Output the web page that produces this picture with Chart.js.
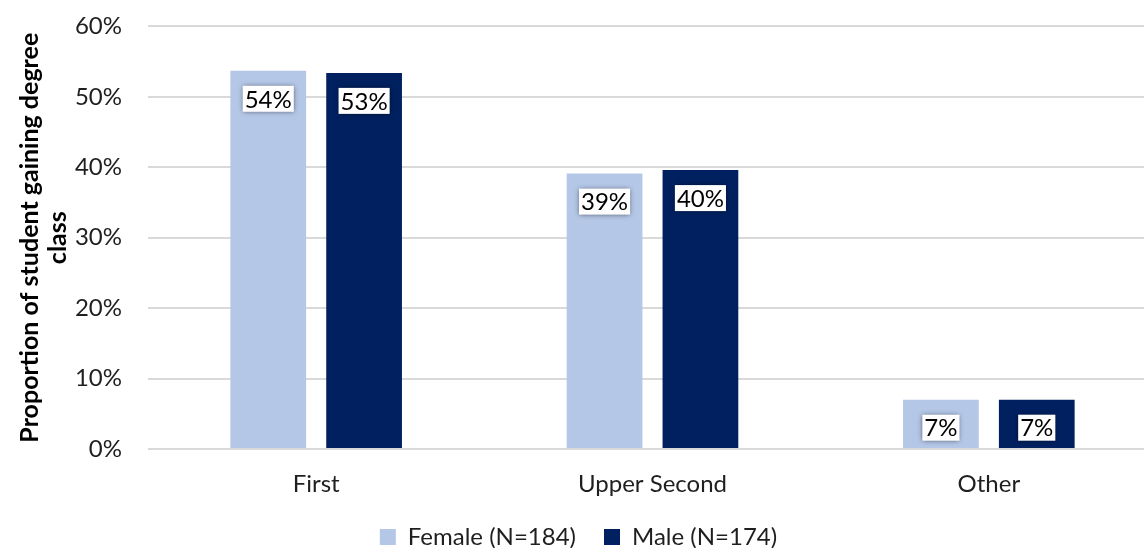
<!DOCTYPE html>
<html>
<head>
<meta charset="utf-8">
<script src="https://cdn.jsdelivr.net/npm/chart.js@4/dist/chart.umd.min.js"></script>
<style>
  html, body { margin: 0; padding: 0; background: #fff; overflow: hidden; }
  #wrap { position: absolute; left: 0; top: -14px; width: 1162px; height: 576px; }
</style>
</head>
<body>
<div id="wrap"><canvas id="c" width="1162" height="576"></canvas></div>
<script>
const categories = ['First', 'Upper Second', 'Other'];
const femaleLabel = 'Female (N=184)';
const maleLabel = 'Male (N=174)';
const femaleValues = [0.537, 0.391, 0.070];
const maleValues = [0.534, 0.396, 0.070];
const yTicks = [0, 0.1, 0.2, 0.3, 0.4, 0.5, 0.6];
const yTitle = ['Proportion of student gaining degree', 'class'];

const FONT = 'Lato, "Open Sans", sans-serif';
const TEXT = '#1f1f1f';

const pctFmt = v => Math.round(v * 100) + '%';

// Value labels drawn inside each bar, on a soft white plate
const valueLabels = {
  id: 'valueLabels',
  afterDatasetsDraw(chart) {
    const ctx = chart.ctx;
    ctx.save();
    ctx.font = '24px ' + FONT;
    ctx.textAlign = 'center';
    ctx.textBaseline = 'middle';
    chart.data.datasets.forEach((ds, di) => {
      const meta = chart.getDatasetMeta(di);
      meta.data.forEach((bar, i) => {
        const txt = pctFmt(ds.data[i]);
        const x = bar.x;
        const y = bar.y + 28;
        const w = ctx.measureText(txt).width + 4;
        const h = 26;
        ctx.save();
        ctx.shadowColor = 'rgba(0,0,0,0.55)';
        ctx.shadowBlur = 5;
        ctx.fillStyle = '#ffffff';
        ctx.fillRect(x - w / 2, y - h / 2, w, h);
        ctx.restore();
        ctx.fillStyle = '#000';
        ctx.fillText(txt, x, y + 1);
      });
    });
    ctx.restore();
  }
};

new Chart(document.getElementById('c'), {
  type: 'bar',
  data: {
    labels: categories,
    datasets: [
      { label: femaleLabel, data: femaleValues, backgroundColor: '#B4C7E7',
        categoryPercentage: 0.57, barPercentage: 0.79 },
      { label: maleLabel, data: maleValues, backgroundColor: '#002060',
        categoryPercentage: 0.57, barPercentage: 0.79 }
    ]
  },
  options: {
    responsive: false,
    animation: false,
    layout: { padding: { left: 0, right: 5, top: 0, bottom: 3 } },
    plugins: {
      legend: {
        position: 'bottom',
        labels: {
          font: { family: FONT, size: 24 },
          color: TEXT,
          boxWidth: 16, boxHeight: 16,
          padding: 28
        }
      },
      tooltip: { enabled: false }
    },
    scales: {
      x: {
        afterFit: axis => { axis.height = 48; },
        grid: { display: false, drawTicks: false },
        border: { display: false },
        ticks: { font: { family: FONT, size: 24 }, color: TEXT, padding: 21 }
      },
      y: {
        min: 0, max: 0.6,
        afterBuildTicks: axis => { axis.ticks = yTicks.map(v => ({ value: v })); },
        afterFit: axis => { axis.width = 148; },
        grid: { color: '#D9D9D9', lineWidth: 2, drawTicks: false },
        border: { display: false },
        ticks: { font: { family: FONT, size: 24 }, color: TEXT, padding: 26,
                 callback: v => Math.round(v * 100) + '%' },
        title: { display: true, text: yTitle, color: '#000',
                 font: { family: FONT, size: 25, weight: 'bold', lineHeight: 1.12 },
                 padding: { top: 16, bottom: 0 } }
      }
    }
  },
  plugins: [valueLabels]
});
</script>
</body>
</html>
